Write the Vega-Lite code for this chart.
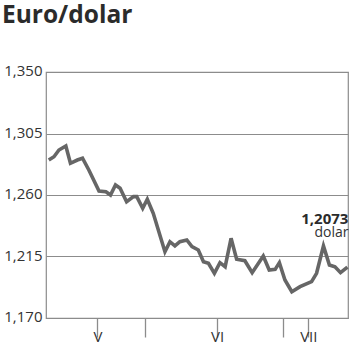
{
  "$schema": "https://vega.github.io/schema/vega-lite/v6.json",
  "width": 302,
  "height": 246,
  "autosize": {"type": "none"},
  "padding": {"left": 46, "top": 72, "right": 2, "bottom": 33},
  "background": "white",
  "title": {
    "text": "Euro/dolar",
    "anchor": "start",
    "frame": "group",
    "dx": -44,
    "offset": 16,
    "baseline": "alphabetic",
    "font": "Open Sans",
    "fontSize": 24.5,
    "fontWeight": "bold",
    "color": "#2b2b2b"
  },
  "config": {
    "font": "Open Sans",
    "view": {"stroke": "#8c8c8c", "strokeWidth": 1.2}
  },
  "datasets": {
    "kurs": [
      {"data": "2005-05-11T02:00Z", "kurs": 1.2856},
      {"data": "2005-05-12T05:00Z", "kurs": 1.2880},
      {"data": "2005-05-13T07:00Z", "kurs": 1.2929},
      {"data": "2005-05-14T19:00Z", "kurs": 1.2959},
      {"data": "2005-05-15T19:00Z", "kurs": 1.2832},
      {"data": "2005-05-17T07:00Z", "kurs": 1.2856},
      {"data": "2005-05-18T10:00Z", "kurs": 1.2869},
      {"data": "2005-05-19T19:00Z", "kurs": 1.2783},
      {"data": "2005-05-22T00:00Z", "kurs": 1.2629},
      {"data": "2005-05-23T12:00Z", "kurs": 1.2624},
      {"data": "2005-05-24T12:00Z", "kurs": 1.2600},
      {"data": "2005-05-25T14:00Z", "kurs": 1.2673},
      {"data": "2005-05-26T14:00Z", "kurs": 1.2649},
      {"data": "2005-05-28T00:00Z", "kurs": 1.2551},
      {"data": "2005-05-29T12:00Z", "kurs": 1.2588},
      {"data": "2005-05-30T05:00Z", "kurs": 1.2588},
      {"data": "2005-05-31T12:00Z", "kurs": 1.2503},
      {"data": "2005-06-01T12:00Z", "kurs": 1.2569},
      {"data": "2005-06-02T19:00Z", "kurs": 1.2466},
      {"data": "2005-06-05T08:00Z", "kurs": 1.2185},
      {"data": "2005-06-06T10:00Z", "kurs": 1.2258},
      {"data": "2005-06-07T12:00Z", "kurs": 1.2227},
      {"data": "2005-06-08T14:00Z", "kurs": 1.2258},
      {"data": "2005-06-10T02:00Z", "kurs": 1.2271},
      {"data": "2005-06-11T05:00Z", "kurs": 1.2222},
      {"data": "2005-06-12T14:00Z", "kurs": 1.2198},
      {"data": "2005-06-13T17:00Z", "kurs": 1.2112},
      {"data": "2005-06-14T19:00Z", "kurs": 1.2100},
      {"data": "2005-06-16T02:00Z", "kurs": 1.2027},
      {"data": "2005-06-17T07:00Z", "kurs": 1.2105},
      {"data": "2005-06-18T10:00Z", "kurs": 1.2075},
      {"data": "2005-06-19T17:00Z", "kurs": 1.2283},
      {"data": "2005-06-20T22:00Z", "kurs": 1.2130},
      {"data": "2005-06-22T17:00Z", "kurs": 1.2119},
      {"data": "2005-06-24T07:00Z", "kurs": 1.2032},
      {"data": "2005-06-26T17:00Z", "kurs": 1.2154},
      {"data": "2005-06-28T00:00Z", "kurs": 1.2051},
      {"data": "2005-06-29T07:00Z", "kurs": 1.2056},
      {"data": "2005-06-30T05:00Z", "kurs": 1.2105},
      {"data": "2005-07-01T10:00Z", "kurs": 1.1978},
      {"data": "2005-07-02T22:00Z", "kurs": 1.1892},
      {"data": "2005-07-04T17:00Z", "kurs": 1.1929},
      {"data": "2005-07-07T05:00Z", "kurs": 1.1966},
      {"data": "2005-07-08T07:00Z", "kurs": 1.2027},
      {"data": "2005-07-09T19:00Z", "kurs": 1.2227},
      {"data": "2005-07-11T02:00Z", "kurs": 1.2088},
      {"data": "2005-07-12T07:00Z", "kurs": 1.2075},
      {"data": "2005-07-13T12:00Z", "kurs": 1.2032},
      {"data": "2005-07-15T00:00Z", "kurs": 1.2073}
    ],
    "etykieta": [
      {"data": "2005-07-15T00:00Z", "kurs": 1.2073, "wartosc": "1,2073", "jednostka": "dolar"}
    ]
  },
  "encoding": {
    "x": {
      "field": "data",
      "type": "temporal",
      "title": null,
      "scale": {
        "type": "utc",
        "domain": [
          {"year": 2005, "month": 5, "date": 10, "hours": 11, "minutes": 30, "utc": true},
          {"year": 2005, "month": 7, "date": 15, "hours": 3, "utc": true}
        ]
      },
      "axis": {
        "values": [
          {"year": 2005, "month": 5, "date": 21, "hours": 16, "utc": true},
          {"year": 2005, "month": 6, "date": 1, "utc": true},
          {"year": 2005, "month": 6, "date": 16, "hours": 16, "utc": true},
          {"year": 2005, "month": 7, "date": 1, "utc": true},
          {"year": 2005, "month": 7, "date": 6, "hours": 12, "utc": true}
        ],
        "labelExpr": "utcdate(datum.value) == 1 && utchours(datum.value) == 0 ? '' : (utcmonth(datum.value) == 4 ? 'V' : (utcmonth(datum.value) == 5 ? 'VI' : 'VII'))",
        "domain": false,
        "grid": false,
        "tickSize": 19,
        "tickColor": "#8c8c8c",
        "tickWidth": 1.3,
        "labelFont": "Open Sans",
        "labelFontSize": 15,
        "labelColor": "#333333",
        "labelBaseline": "alphabetic",
        "labelPadding": 4,
        "labelAlign": "center",
        "labelFlush": false,
        "labelOverlap": false,
        "encode": {
          "ticks": {
            "update": {
              "strokeOpacity": {"signal": "utcdate(datum.value) == 1 && utchours(datum.value) == 0 ? 1 : 0"}
            }
          }
        }
      }
    },
    "y": {
      "field": "kurs",
      "type": "quantitative",
      "title": null,
      "scale": {"domain": [1.17, 1.35], "zero": false, "nice": false},
      "axis": {
        "values": [1.17, 1.215, 1.26, 1.305, 1.35],
        "labelExpr": "replace(format(datum.value, '.3f'), '.', ',')",
        "domain": false,
        "ticks": false,
        "grid": true,
        "gridColor": "#8c8c8c",
        "gridWidth": 1.2,
        "labelFont": "Open Sans",
        "labelFontSize": 15,
        "labelColor": "#333333",
        "labelPadding": 4,
        "labelBaseline": "middle",
        "labelOffset": -1.5
      }
    }
  },
  "layer": [
    {
      "data": {"name": "kurs"},
      "mark": {"type": "line", "color": "#666666", "strokeWidth": 3.6}
    },
    {
      "data": {"name": "etykieta"},
      "mark": {
        "type": "text",
        "align": "right",
        "baseline": "alphabetic",
        "dx": 1,
        "dy": -43.5,
        "font": "Open Sans",
        "fontSize": 15,
        "fontWeight": "bold",
        "color": "#2b2b2b"
      },
      "encoding": {"text": {"field": "wartosc"}}
    },
    {
      "data": {"name": "etykieta"},
      "mark": {
        "type": "text",
        "align": "right",
        "baseline": "alphabetic",
        "dx": 1,
        "dy": -30.5,
        "font": "Open Sans",
        "fontSize": 14,
        "color": "#333333"
      },
      "encoding": {"text": {"field": "jednostka"}}
    }
  ]
}
